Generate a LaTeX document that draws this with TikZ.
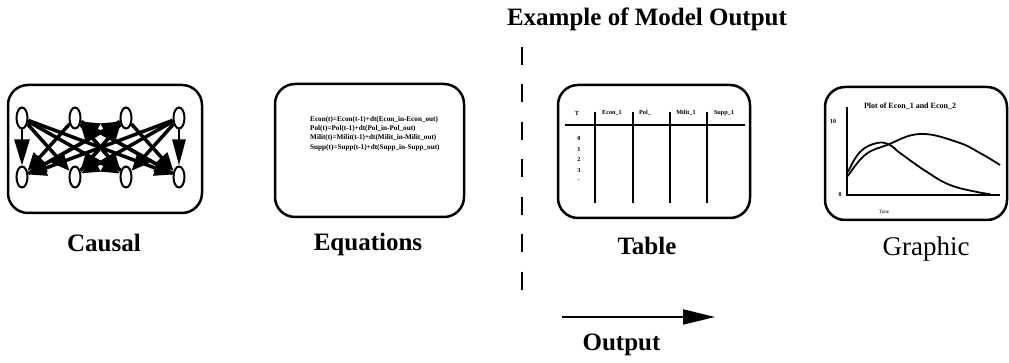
\documentclass[tikz,border=0pt]{standalone}
\usepackage{fontspec}
\setmainfont{Liberation Serif}
\usetikzlibrary{positioning,arrows.meta,shapes.geometric,backgrounds}

\tikzset{
  panel/.style={draw, line width=2.5pt, rounded corners=20pt, inner sep=0pt},
  oval/.style={draw, ellipse, line width=2pt, fill=white, minimum width=11pt, minimum height=21pt, inner sep=0pt},
  link/.style={line width=3.5pt, -{Triangle[length=18pt,width=15pt]}},
  caption/.style={font=\fontsize{25}{30}\selectfont\bfseries, anchor=base, inner sep=0pt},
  eqtext/.style={font=\fontsize{7.2}{9.3}\selectfont\bfseries, align=left, inner sep=0pt},
  celltext/.style={font=\fontsize{6.2}{7}\selectfont\bfseries, inner sep=0pt},
  plottext/.style={font=\fontsize{8}{9}\selectfont\bfseries, inner sep=0pt}
}

\begin{document}
\begin{tikzpicture}[x=10pt, y=10pt]
    \useasboundingbox (0,0) rectangle (100.9,36.3);

    % Title and divider
    \node[caption] (title) at (64.7,33.7) {Example of Model Output};
    \draw[line width=2.5pt, dash pattern=on 18pt off 19.5pt] (52.2,31.6) -- (52.2,7.3);

    % Panels
    \node[panel, minimum width=194pt, minimum height=128pt] (causal) at (10.5,21.4) {};
    \node[panel, minimum width=189pt, minimum height=133pt] (equations) at (36.95,21.25) {};
    \node[panel, minimum width=192pt, minimum height=133pt] (table) at (65.4,21.15) {};
    \node[panel, minimum width=182pt, minimum height=133pt] (graphic) at (91.6,20.95) {};

    % Captions
    \node[caption] (causallabel) at (10.4,11.1) {Causal};
    \node[caption] (equationslabel) at (36.8,11.2) {Equations};
    \node[caption] (tablelabel) at (64.7,10.8) {Table};
    \node[caption, font=\fontsize{27}{32}\selectfont] (graphiclabel) at (92.6,10.7) {Graphic};

    % Causal diagram
    \foreach \x [count=\k] in {2.2,7.5,12.6,17.9} {
        \node[oval] (c\k t) at (\x,24.5) {};
        \node[oval] (c\k b) at (\x,18.6) {};
    }
    \begin{scope}[on background layer]
        \foreach \a/\b in {1/2,1/3,2/1,2/3,2/4,3/1,3/2,3/4,4/2,4/3,1/4,4/1} {
            \draw[link] (c\a t) -- (c\b b);
        }
        \foreach \a/\b in {2/3,3/2,1/3,4/2} {
            \draw[link] (c\a b) -- (c\b t);
        }
        \draw[link, line width=2.5pt, -{Triangle[length=26pt,width=15pt]}] (c1t) -- (c1b);
        \draw[link, line width=2.5pt, -{Triangle[length=26pt,width=13pt]}] (c4t) -- (c4b);
    \end{scope}

    % Equations
    \node[eqtext, anchor=north west] (eqlines) at (31.0,24.7) {%
        Econ(t)=Econ(t-1)+dt(Econ\_in-Econ\_out)\\
        Pol(t)=Pol(t-1)+dt(Pol\_in-Pol\_out)\\
        Milit(t)=Milit(t-1)+dt(Milit\_in-Milit\_out)\\
        Supp(t)=Supp(t-1)+dt(Supp\_in-Supp\_out)};

    % Table
    \foreach \t/\x [count=\k] in {T/57.7,Econ\_1/61.2,Pol\_/64.5,Milit\_1/68.6,Supp\_1/72.4} {
        \node[celltext] (head\k) at (\x,25.0) {\t};
    }
    \foreach \x in {59.5,63.3,67.0,70.7} {
        \draw[line width=2.2pt] (\x,25.1) -- (\x,16.0);
    }
    \draw[line width=2.5pt] (56.5,23.8) -- (74.5,23.8);
    \foreach \v [count=\k] in {0,1,2,3,.} {
        \node[celltext] (row\k) at (57.9,23.5-1.05*\k) {\v};
    }

    % Graphic
    \node[plottext] (plottitle) at (91.0,25.7) {Plot of Econ\_1 and Econ\_2};
    \draw[line width=1.8pt] (84.7,25.6) -- (84.7,16.8) -- (100.0,16.8);
    \node[plottext, font=\fontsize{6}{7}\selectfont\bfseries] (ytop) at (83.3,24.1) {10};
    \node[plottext, font=\fontsize{6}{7}\selectfont\bfseries] (yzero) at (84.0,16.8) {0};
    \node[plottext, font=\fontsize{5}{6}\selectfont] (xlab) at (88.4,15.1) {Time};
    \draw[line width=1.8pt] plot[smooth, tension=0.7] coordinates
        {(84.8,18.7) (86.5,20.8) (88.7,21.8) (92.0,22.9) (95.7,22.1) (98.0,21.0) (100.0,19.8)};
    \draw[line width=1.8pt] plot[smooth, tension=0.7] coordinates
        {(84.8,19.1) (86.0,21.1) (87.7,22.0) (89.0,21.8) (90.0,21.0) (92.7,19.1) (95.0,17.8) (97.7,17.1) (99.0,16.9)};

    % Output arrow
    \coordinate (outstart) at (56.2,4.6);
    \coordinate (outend) at (71.5,4.6);
    \draw[line width=2pt, -{Triangle[length=32pt,width=15pt]}] (outstart) -- (outend);
    \node[caption] (outputlabel) at (62.15,1.2) {Output};
\end{tikzpicture}
\end{document}
